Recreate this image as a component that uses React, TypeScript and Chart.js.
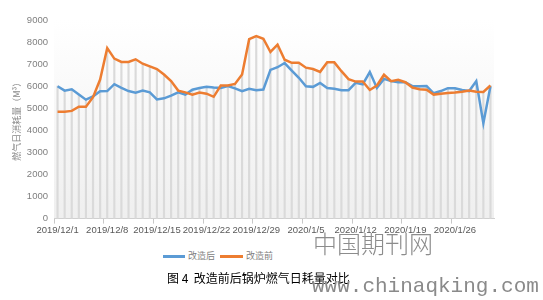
import React, { useEffect, useRef } from "react";
import { Chart, registerables } from "chart.js";

Chart.register(...registerables);

const categories: string[] = [
  "2019/12/1", "2019/12/2", "2019/12/3", "2019/12/4", "2019/12/5", "2019/12/6", "2019/12/7",
  "2019/12/8", "2019/12/9", "2019/12/10", "2019/12/11", "2019/12/12", "2019/12/13", "2019/12/14",
  "2019/12/15", "2019/12/16", "2019/12/17", "2019/12/18", "2019/12/19", "2019/12/20", "2019/12/21",
  "2019/12/22", "2019/12/23", "2019/12/24", "2019/12/25", "2019/12/26", "2019/12/27", "2019/12/28",
  "2019/12/29", "2019/12/30", "2019/12/31", "2020/1/1", "2020/1/2", "2020/1/3", "2020/1/4",
  "2020/1/5", "2020/1/6", "2020/1/7", "2020/1/8", "2020/1/9", "2020/1/10", "2020/1/11",
  "2020/1/12", "2020/1/13", "2020/1/14", "2020/1/15", "2020/1/16", "2020/1/17", "2020/1/18",
  "2020/1/19", "2020/1/20", "2020/1/21", "2020/1/22", "2020/1/23", "2020/1/24", "2020/1/25",
  "2020/1/26", "2020/1/27", "2020/1/28", "2020/1/29", "2020/1/30", "2020/1/31",
];

const afterRetrofit: number[] = [
  6000, 5800, 5860, 5620, 5390, 5540, 5770, 5780, 6090, 5920,
  5780, 5710, 5800, 5720, 5400, 5450, 5570, 5720, 5620, 5840,
  5920, 5970, 5940, 5920, 6010, 5900, 5770, 5880, 5820, 5850,
  6740, 6860, 7050, 6710, 6380, 6000, 5970, 6150, 5920, 5880,
  5820, 5820, 6150, 6080, 6640, 5920, 6330, 6230, 6180, 6180,
  6000, 6000, 6010, 5680, 5780, 5910, 5910, 5830, 5780, 6230,
  4320, 6000,
];

const beforeRetrofit: number[] = [
  4840, 4840, 4880, 5070, 5070, 5500, 6300, 7730, 7250, 7100,
  7100, 7220, 7020, 6900, 6780, 6530, 6230, 5800, 5720, 5620,
  5710, 5660, 5520, 6030, 6030, 6100, 6530, 8130, 8270, 8150,
  7550, 7880, 7200, 7060, 7060, 6840, 6780, 6650, 7080, 7080,
  6680, 6320, 6210, 6210, 5830, 6030, 6520, 6230, 6290, 6180,
  5940, 5860, 5840, 5620, 5660, 5690, 5710, 5750, 5800, 5750,
  5740, 6030,
];

const seriesNames = ["改造后", "改造前"];
const seriesColors = ["#5B9BD5", "#ED7D31"];
const yTitle = "燃气日消耗量（M³）";
const caption = "图 4  改造前后锅炉燃气日耗量对比";
const tickEvery = 7;

const bgPlugin = {
  id: "plotBg",
  beforeDraw(chart: any) {
    const { ctx, chartArea } = chart;
    if (!chartArea) return;
    const g = ctx.createLinearGradient(0, chartArea.top, 0, chartArea.bottom);
    g.addColorStop(0, "#ffffff");
    g.addColorStop(1, "#efefef");
    ctx.save();
    ctx.fillStyle = g;
    ctx.fillRect(chartArea.left, chartArea.top, chartArea.right - chartArea.left, chartArea.bottom - chartArea.top);
    ctx.restore();
  },
};

export default function App() {
  const ref = useRef<HTMLCanvasElement>(null);

  useEffect(() => {
    if (!ref.current) return;
    const dropLines = afterRetrofit.map((v, i) => Math.max(v, beforeRetrofit[i]));
    const chart = new Chart(ref.current, {
      type: "line",
      data: {
        labels: categories,
        datasets: [
          {
            label: seriesNames[1],
            data: beforeRetrofit,
            borderColor: seriesColors[1],
            backgroundColor: seriesColors[1],
            borderWidth: 2.5,
            pointRadius: 0,
            tension: 0,
            order: 0,
          } as any,
          {
            label: seriesNames[0],
            data: afterRetrofit,
            borderColor: seriesColors[0],
            backgroundColor: seriesColors[0],
            borderWidth: 2.5,
            pointRadius: 0,
            tension: 0,
            order: 1,
          },
          {
            type: "bar",
            label: "drop",
            data: dropLines,
            backgroundColor: "#dadada",
            barThickness: 1.5,
            order: 2,
          } as any,
        ],
      },
      options: {
        animation: false,
        responsive: false,
        events: [],
        layout: { padding: { left: 0, right: 49, top: 20, bottom: 8 } },
        plugins: {
          legend: { display: false },
          tooltip: { enabled: false },
        },
        scales: {
          x: {
            type: "category",
            offset: true,
            grid: {
              offset: true,
              drawOnChartArea: false,
              tickLength: 5,
              color: (c: any) => (c.index % tickEvery === 0 ? "#c8c8c8" : "rgba(0,0,0,0)"),
            },
            border: { color: "#d0d0d0" },
            ticks: {
              autoSkip: false,
              maxRotation: 0,
              minRotation: 0,
              padding: 1,
              color: "#595959",
              font: { family: "Liberation Sans", size: 9.5 },
              callback: (_v: any, i: number) => (i % tickEvery === 0 ? categories[i] : ""),
            },
          },
          y: {
            min: 0,
            max: 9000,
            grid: { display: false, drawTicks: false },
            border: { display: false },
            ticks: {
              stepSize: 1000,
              padding: 6,
              color: "#7f7f7f",
              font: { family: "Liberation Sans", size: 9.5 },
              callback: (v: any) => String(v),
            },
            title: {
              display: true,
              text: yTitle,
              color: "#8a8a8a",
              font: { family: "Noto Sans CJK SC", size: 9 },
              padding: { top: 11, bottom: 0 },
            },
            afterFit: (s: any) => {
              s.width = 54;
            },
          },
        },
      },
      plugins: [bgPlugin],
    });
    return () => chart.destroy();
  }, []);

  return (
    <div style={{ position: "absolute", left: 0, top: 0, width: 543, height: 300, background: "#fff", overflow: "hidden" }}>
      <canvas ref={ref} width={543} height={245} style={{ position: "absolute", left: 0, top: 0 }} />
      <div
        style={{
          position: "absolute", left: 163, top: 249, display: "flex", alignItems: "center",
          fontFamily: "Noto Sans CJK SC", fontSize: 9, color: "#808080", lineHeight: "14px",
        }}
      >
        <span style={{ display: "inline-block", width: 22, height: 3, background: seriesColors[0], marginRight: 3 }} />
        <span style={{ marginRight: 5 }}>{seriesNames[0]}</span>
        <span style={{ display: "inline-block", width: 23, height: 3, background: seriesColors[1], marginRight: 3 }} />
        <span>{seriesNames[1]}</span>
      </div>
      <div
        style={{
          position: "absolute", left: 313, top: 229, fontFamily: "Noto Sans CJK SC", fontWeight: 300,
          fontSize: 24, color: "#8c8c8c", letterSpacing: 0, lineHeight: "28px", whiteSpace: "nowrap",
        }}
      >
        中国期刊网
      </div>
      <div
        style={{
          position: "absolute", left: 167, top: 270, fontFamily: "Noto Sans CJK SC", fontSize: 12,
          color: "#000", lineHeight: "16px", whiteSpace: "pre",
        }}
      >
        {caption}
      </div>
      <div
        style={{
          position: "absolute", left: 312, top: 274, fontFamily: "Liberation Mono", fontSize: 21,
          color: "#8a8a8a", lineHeight: "26px", whiteSpace: "nowrap",
        }}
      >
        www.chinaqking.com
      </div>
    </div>
  );
}
